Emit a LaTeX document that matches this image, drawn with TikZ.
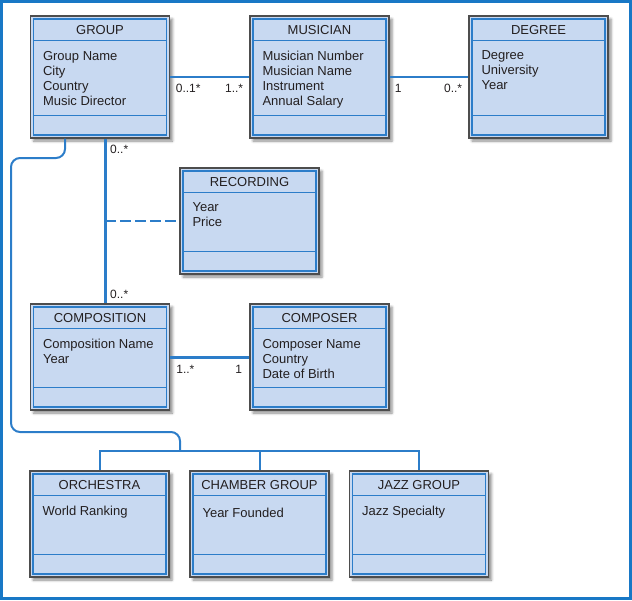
\documentclass[tikz,border=0pt]{standalone}
\usepackage{fontspec}
\setmainfont{Liberation Sans}
\usetikzlibrary{shadows.blur}
\definecolor{clsfill}{HTML}{C8D9F1}
\definecolor{clsblue}{HTML}{2C7DC9}
\definecolor{clsgray}{HTML}{4D4D4D}
\definecolor{framblue}{HTML}{1878C6}
\definecolor{txt}{HTML}{231F20}
\tikzset{
  clsline/.style={draw=clsblue, line width=1.5pt},
  umlbox/.style={draw=clsgray, line width=1.3pt, fill=clsfill, rectangle,
    minimum width=139pt, inner sep=0pt,
    blur shadow={shadow xshift=3pt, shadow yshift=-3pt, shadow blur radius=2.5pt, shadow opacity=45},
    path picture={
      \draw[clsline] ([xshift=3pt,yshift=-3pt]path picture bounding box.north west) rectangle ([xshift=-3pt,yshift=3pt]path picture bounding box.south east);
      \draw[clsline] ([xshift=3pt,yshift=-24.5pt]path picture bounding box.north west) -- ([xshift=-3pt,yshift=-24.5pt]path picture bounding box.north east);
      \draw[clsline] ([xshift=3pt,yshift=22.5pt]path picture bounding box.south west) -- ([xshift=-3pt,yshift=22.5pt]path picture bounding box.south east);
    }},
  umltitle/.style={font=\fontsize{13}{15}\selectfont, text=txt, inner sep=0pt},
  umlattr/.style={font=\fontsize{13}{15}\selectfont, text=txt, inner sep=0pt, align=left, anchor=north west},
  mult/.style={font=\fontsize{12}{14}\selectfont, text=txt, inner sep=0pt},
  thinline/.style={draw=clsblue, line width=2pt},
  thickline/.style={draw=clsblue, line width=3pt},
  dashline/.style={draw=clsblue, line width=2pt, dash pattern=on 10.5pt off 4.5pt},
}
\newcommand{\umlclass}[6]{%
  \node[umlbox, minimum height=#3] (#1) at (#2) {};
  \node[umltitle] (#1-t) at ([yshift=-15pt]#1.north) {#4};
  \node[umlattr] (#1-a) at ([xshift=13pt,yshift=#6]#1.north west) {#5};
}
\begin{document}
\begin{tikzpicture}[x=1pt,y=-1pt]
\useasboundingbox (0,0) rectangle (632,600);
\draw[draw=framblue, line width=3pt] (1.5,1.5) rectangle (630.5,598.5);

\umlclass{g}{100,77}{122pt}{GROUP}{Group Name\\City\\Country\\Music Director}{-35.5pt}
\umlclass{m}{319.5,77}{122pt}{MUSICIAN}{Musician Number\\Musician Name\\Instrument\\Annual Salary}{-35.5pt}
\umlclass{d}{538.5,77}{122pt}{DEGREE}{Degree\\University\\Year}{-35.5pt}
\umlclass{r}{249.5,221}{106pt}{RECORDING}{Year\\Price}{-35.5pt}
\umlclass{c}{100,357}{106pt}{COMPOSITION}{Composition Name\\Year}{-35.5pt}
\umlclass{cp}{319.5,357}{106pt}{COMPOSER}{Composer Name\\Country\\Date of Birth}{-35.5pt}
\umlclass{o}{99.5,524}{106pt}{ORCHESTRA}{World Ranking}{-35.5pt}
\umlclass{ch}{259.5,524}{106pt}{CHAMBER GROUP}{Year Founded}{-37.5pt}
\umlclass{jz}{419,524}{106pt}{JAZZ GROUP}{Jazz Specialty}{-35.5pt}

% associations
\draw[thinline] (g) -- (m);
\draw[thinline] (m) -- (d);
\draw[thickline] ([xshift=5pt]g.south) -- ([xshift=5pt]c.north);
\draw[thickline] (c) -- (cp);
\coordinate (rj) at ([xshift=5pt]g.south |- r.west);
\draw[dashline] (rj) -- (r.west);

% multiplicities
\node[mult, anchor=base west] (l1) at ([xshift=5.5pt,yshift=-15pt]g.east) {0..1*};
\node[mult, anchor=base east] (l2) at ([xshift=-6pt,yshift=-15pt]m.west) {1..*};
\node[mult, anchor=base west] (l3) at ([xshift=5pt,yshift=-15pt]m.east) {1};
\node[mult, anchor=base east] (l4) at ([xshift=-6pt,yshift=-15pt]d.west) {0..*};
\node[mult, anchor=base west] (l5) at ([xshift=10pt,yshift=-15pt]g.south) {0..*};
\node[mult, anchor=base west] (l6) at ([xshift=10pt,yshift=5pt]c.north) {0..*};
\node[mult, anchor=base west] (l7) at ([xshift=6pt,yshift=-16pt]c.east) {1..*};
\node[mult, anchor=base east] (l8) at ([xshift=-7pt,yshift=-16pt]cp.west) {1};

% generalization
\coordinate (gj) at (180,451);
\draw[thinline, rounded corners=9pt] ([xshift=-35pt]g.south) |- (11,158) -- (11,432) -| (gj);
\draw[thinline] (o.north) |- (jz.north |- gj) -- (jz.north);
\draw[thinline] (ch.north) -- (ch.north |- gj);
\end{tikzpicture}
\end{document}
